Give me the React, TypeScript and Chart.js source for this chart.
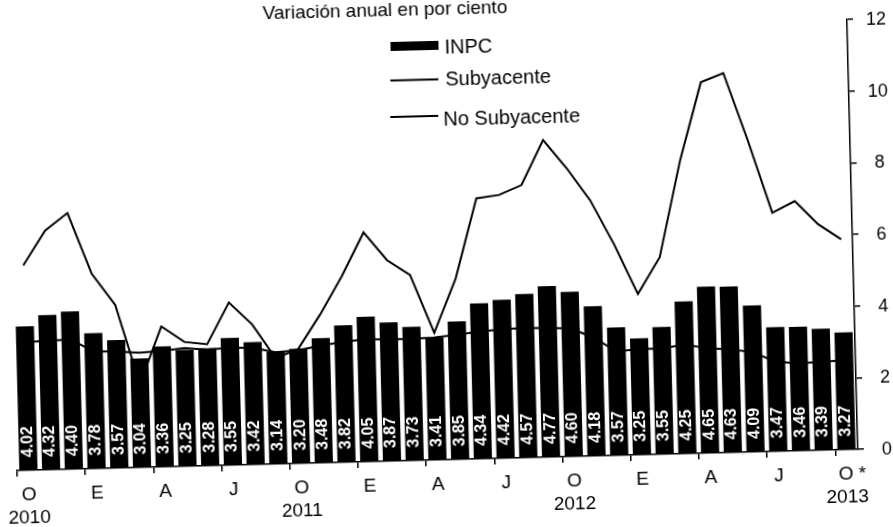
import React, { useEffect, useRef } from 'react';
import { Chart, registerables } from 'chart.js';

Chart.register(...registerables);

const monthLetters = [
  'O', '', '', 'E', '', '', 'A', '', '', 'J', '', '',
  'O', '', '', 'E', '', '', 'A', '', '', 'J', '', '',
  'O', '', '', 'E', '', '', 'A', '', '', 'J', '', '',
  '  O *',
];
const yearLabels = [
  '2010', '', '', '', '', '', '', '', '', '', '', '',
  '2011', '', '', '', '', '', '', '', '', '', '', '',
  '2012', '', '', '', '', '', '', '', '', '', '', '',
  '2013',
];
const inpc = [
  4.02, 4.32, 4.40, 3.78, 3.57, 3.04, 3.36, 3.25, 3.28, 3.55, 3.42, 3.14,
  3.20, 3.48, 3.82, 4.05, 3.87, 3.73, 3.41, 3.85, 4.34, 4.42, 4.57, 4.77,
  4.60, 4.18, 3.57, 3.25, 3.55, 4.25, 4.65, 4.63, 4.09, 3.47, 3.46, 3.39,
  3.27,
];
const subyacente = [
  3.58, 3.60, 3.62, 3.27, 3.25, 3.20, 3.24, 3.30, 3.24, 3.28, 3.26, 3.12,
  3.16, 3.27, 3.36, 3.42, 3.40, 3.40, 3.42, 3.48, 3.55, 3.60, 3.62, 3.60,
  3.58, 3.30, 2.90, 2.95, 2.95, 3.05, 2.92, 2.88, 2.78, 2.50, 2.44, 2.46,
  2.50,
];
const noSubyacente = [
  5.72, 6.68, 7.15, 5.44, 4.55, 2.33, 3.92, 3.47, 3.39, 4.54, 3.91, 2.95,
  3.20, 4.14, 5.20, 6.40, 5.61, 5.18, 3.55, 5.05, 7.27, 7.35, 7.61, 8.85,
  8.05, 7.14, 5.90, 4.49, 5.50, 8.18, 10.35, 10.59, 8.70, 6.66, 6.97, 6.31,
  5.87,
];
const yTicks = [0, 2, 4, 6, 8, 10, 12];
const titleText = 'Variación anual en por ciento';
const legendLabels = ['INPC', 'Subyacente', 'No Subyacente'];

const FONT = '"Liberation Sans", Arial, Helvetica, sans-serif';
const OFF = 20; // canvas extends 20px above the viewport

const decorPlugin = {
  id: 'decor',
  afterDatasetsDraw(chart: any) {
    const ctx = chart.ctx;
    const meta = chart.getDatasetMeta(2);
    const yScale = chart.scales.y;
    const y0 = yScale.getPixelForValue(0);
    ctx.save();
    ctx.fillStyle = '#ffffff';
    ctx.font = `bold 16px ${FONT}`;
    ctx.textAlign = 'left';
    ctx.textBaseline = 'middle';
    meta.data.forEach((el: any, i: number) => {
      ctx.save();
      ctx.translate(el.x, y0 - 13);
      ctx.rotate(-Math.PI / 2);
      ctx.fillText(inpc[i].toFixed(2), 0, 0);
      ctx.restore();
    });
    ctx.restore();
  },
  afterDraw(chart: any) {
    const ctx = chart.ctx;
    const yScale = chart.scales.y;
    ctx.save();
    ctx.fillStyle = '#000';
    ctx.strokeStyle = '#000';

    // right axis tick labels
    ctx.font = `18px ${FONT}`;
    ctx.textAlign = 'center';
    ctx.textBaseline = 'middle';
    yTicks.forEach((v) => {
      ctx.fillText(String(v), yScale.left + 29, yScale.getPixelForValue(v) + 1);
    });

    ctx.font = `19px ${FONT}`;
    ctx.textAlign = 'left';
    ctx.textBaseline = 'alphabetic';
    ctx.fillText(titleText, 274, OFF + 15);

    ctx.font = `20px ${FONT}`;
    ctx.textBaseline = 'middle';
    ctx.fillRect(401, OFF + 41, 48, 9);
    ctx.fillText(legendLabels[0], 455, OFF + 48);
    ctx.lineWidth = 2;
    ctx.beginPath();
    ctx.moveTo(400, OFF + 79.5);
    ctx.lineTo(448, OFF + 79.5);
    ctx.stroke();
    ctx.fillText(legendLabels[1], 455, OFF + 80);
    ctx.beginPath();
    ctx.moveTo(399, OFF + 116);
    ctx.lineTo(447, OFF + 116);
    ctx.stroke();
    ctx.fillText(legendLabels[2], 452, OFF + 120);
    ctx.restore();
  },
};

export default function App() {
  const ref = useRef<HTMLCanvasElement | null>(null);

  useEffect(() => {
    if (!ref.current) return;
    const labels = monthLetters.map((m, i) => (yearLabels[i] ? [m, yearLabels[i]] : m));
    const chart = new Chart(ref.current, {
      type: 'bar',
      data: {
        labels,
        datasets: [
          {
            type: 'line',
            label: legendLabels[1],
            data: subyacente,
            borderColor: '#000',
            borderWidth: 2,
            pointRadius: 0,
            tension: 0,
            fill: false,
            order: 1,
          } as any,
          {
            type: 'line',
            label: legendLabels[2],
            data: noSubyacente,
            borderColor: '#000',
            borderWidth: 2,
            pointRadius: 0,
            tension: 0,
            fill: false,
            order: 1,
          } as any,
          {
            type: 'bar',
            label: legendLabels[0],
            data: inpc,
            backgroundColor: '#000',
            borderWidth: 0,
            barPercentage: 0.8,
            categoryPercentage: 1,
            order: 2,
          } as any,
        ],
      },
      options: {
        responsive: false,
        maintainAspectRatio: false,
        animation: false,
        devicePixelRatio: 1,
        layout: { padding: { left: 15, right: 37, top: 30 + OFF, bottom: 7 } },
        plugins: {
          legend: { display: false },
          tooltip: { enabled: false },
          title: { display: false },
        },
        scales: {
          x: {
            offset: true,
            afterFit: (scale: any) => {
              scale.height = 60;
            },
            border: { display: true, color: '#000', width: 1.5 },
            grid: {
              offset: true,
              drawOnChartArea: false,
              drawTicks: true,
              tickLength: 6,
              lineWidth: 1.5,
              color: (c: any) =>
                c.index !== undefined && monthLetters[c.index] ? '#000' : 'rgba(0,0,0,0)',
            },
            ticks: {
              autoSkip: false,
              maxRotation: 0,
              minRotation: 0,
              padding: 7,
              color: '#000',
              font: { family: FONT, size: 19, lineHeight: 1.21 },
            },
          },
          y: {
            position: 'right',
            min: 0,
            max: 12,
            afterFit: (scale: any) => {
              scale.width = 35;
            },
            afterBuildTicks: (scale: any) => {
              scale.ticks = yTicks.map((v) => ({ value: v }));
            },
            border: { display: true, color: '#000', width: 1.5 },
            grid: {
              drawOnChartArea: false,
              drawTicks: true,
              tickLength: 6,
              lineWidth: 1.5,
              color: '#000',
            },
            ticks: { display: false },
          },
        },
      },
      plugins: [decorPlugin],
    } as any);
    return () => chart.destroy();
  }, []);

  return (
    <div
      style={{
        position: 'fixed',
        left: 0,
        top: -OFF,
        width: 930,
        height: 527 + OFF,
        transform: 'rotate(-1.45deg)',
        transformOrigin: `436px ${460 + OFF}px`,
      }}
    >
      <canvas ref={ref} width={930} height={527 + OFF} style={{ display: 'block' }} />
    </div>
  );
}
